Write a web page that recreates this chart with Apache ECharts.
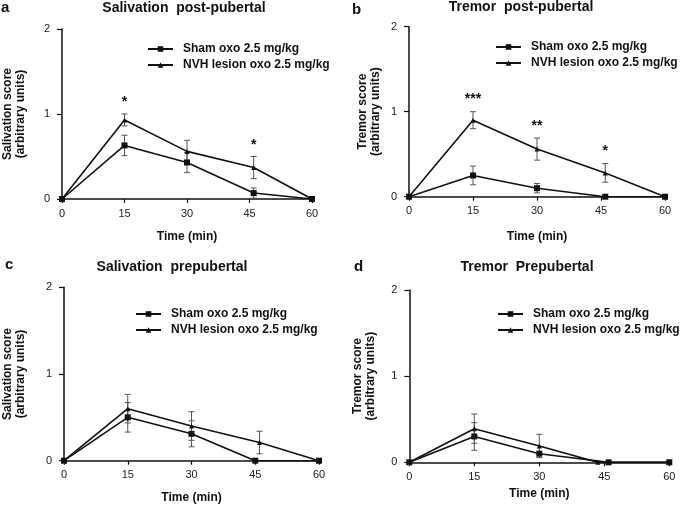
<!DOCTYPE html>
<html>
<head>
<meta charset="utf-8">
<script src="https://cdn.jsdelivr.net/npm/echarts@6/dist/echarts.min.js"></script>
<style>
html,body{margin:0;padding:0;background:#fff;}
#chart{width:685px;height:509px;}
</style>
</head>
<body>
<div id="chart"></div>
<script>
// ---------- data ----------
const xTicks = [0, 15, 30, 45, 60];
const yTicks = [0, 1, 2];
const shamName = 'Sham oxo 2.5 mg/kg';
const nvhName = 'NVH lesion oxo 2.5 mg/kg';

// Panel a: Salivation post-pubertal
const aShamX = [0, 15, 30, 46, 60];
const aShamY = [0, 0.63, 0.43, 0.07, 0];
const aShamErr = [0, 0.12, 0.12, 0.06, 0];
const aNvhX = [0, 15, 30, 46, 60];
const aNvhY = [0, 0.93, 0.56, 0.37, 0];
const aNvhErr = [0, 0.07, 0.13, 0.13, 0];
const aStarX = [15, 46];
const aStarY = [1.14, 0.63];
const aStarText = ['*', '*'];

// Panel b: Tremor post-pubertal
const bShamX = [0, 15, 30, 46, 60];
const bShamY = [0, 0.25, 0.10, 0, 0];
const bShamErr = [0, 0.11, 0.055, 0, 0];
const bNvhX = [0, 15, 30, 46, 60];
const bNvhY = [0, 0.90, 0.56, 0.28, 0];
const bNvhErr = [0, 0.10, 0.13, 0.11, 0];
const bStarX = [15, 30, 46];
const bStarY = [1.15, 0.83, 0.54];
const bStarText = ['***', '**', '*'];

// Panel c: Salivation prepubertal
const cShamX = [0, 15, 30, 45, 60];
const cShamY = [0, 0.50, 0.31, 0, 0];
const cShamErr = [0, 0.17, 0.15, 0, 0];
const cNvhX = [0, 15, 30, 46, 60];
const cNvhY = [0, 0.60, 0.40, 0.21, 0];
const cNvhErr = [0, 0.165, 0.165, 0.13, 0];

// Panel d: Tremor Prepubertal
const dShamX = [0, 15, 30, 46, 60];
const dShamY = [0, 0.30, 0.10, 0, 0];
const dShamErr = [0, 0.16, 0, 0, 0];
const dNvhX = [0, 15, 30, 43.5, 60];
const dNvhY = [0, 0.39, 0.19, 0, 0];
const dNvhErr = [0, 0.17, 0.135, 0, 0];

const panelTitles = ['Salivation  post-pubertal', 'Tremor  post-pubertal', 'Salivation  prepubertal', 'Tremor  Prepubertal'];
const panelLetters = ['a', 'b', 'c', 'd'];
const yNames = ['Salivation score\n(arbitrary units)', 'Tremor score\n(arbitrary units)', 'Salivation score\n(arbitrary units)', 'Tremor score\n(arbitrary units)'];
const xName = 'Time (min)';

// ---------- layout ----------
const FONT = 'Liberation Sans, Arial, sans-serif';
const layouts = [
  {grid: {left: 58, top: 29, width: 254, height: 170}, yGap: 35, xGap: 32,
   legend: {left: 147, top: 43}, title: {x: 184, y: 1}, letter: {x: 1, y: 0}},
  {grid: {left: 409, top: 26.7, width: 256, height: 170}, yGap: 27, xGap: 34,
   legend: {left: 495, top: 41}, title: {x: 521, y: 0}, letter: {x: 352, y: 2}},
  {grid: {left: 60, top: 287.3, width: 259, height: 173.4}, yGap: 37, xGap: 31,
   legend: {left: 135, top: 308}, title: {x: 172, y: 260}, letter: {x: 5, y: 257}},
  {grid: {left: 409.3, top: 290, width: 260, height: 172.3}, yGap: 32, xGap: 25,
   legend: {left: 497, top: 308}, title: {x: 527, y: 260}, letter: {x: 354, y: 259}}
];

const panels = [
  {sx: aShamX, sy: aShamY, se: aShamErr, nx: aNvhX, ny: aNvhY, ne: aNvhErr, stx: aStarX, sty: aStarY, stt: aStarText},
  {sx: bShamX, sy: bShamY, se: bShamErr, nx: bNvhX, ny: bNvhY, ne: bNvhErr, stx: bStarX, sty: bStarY, stt: bStarText},
  {sx: cShamX, sy: cShamY, se: cShamErr, nx: cNvhX, ny: cNvhY, ne: cNvhErr, stx: [], sty: [], stt: []},
  {sx: dShamX, sy: dShamY, se: dShamErr, nx: dNvhX, ny: dNvhY, ne: dNvhErr, stx: [], sty: [], stt: []}
];

function zip(xs, ys) { return xs.map((x, i) => [x, ys[i]]); }
function zip3(xs, ys, es) { return xs.map((x, i) => [x, ys[i], es[i]]); }

function errorRender(params, api) {
  const x = api.value(0), y = api.value(1), e = api.value(2);
  if (!e) return null;
  const top = api.coord([x, y + e]);
  const bot = api.coord([x, y - e]);
  const half = 3;
  const st = {stroke: '#555', lineWidth: 1};
  return {type: 'group', children: [
    {type: 'line', shape: {x1: top[0], y1: top[1], x2: bot[0], y2: bot[1]}, style: st},
    {type: 'line', shape: {x1: top[0] - half, y1: top[1], x2: top[0] + half, y2: top[1]}, style: st},
    {type: 'line', shape: {x1: bot[0] - half, y1: bot[1], x2: bot[0] + half, y2: bot[1]}, style: st}
  ]};
}

const option = {
  backgroundColor: '#fff',
  animation: false,
  title: [], legend: [], grid: [], xAxis: [], yAxis: [], series: []
};

panels.forEach((p, i) => {
  const L = layouts[i];
  option.title.push({text: panelTitles[i], left: L.title.x, top: L.title.y, textAlign: 'center', padding: 0,
    textStyle: {fontFamily: FONT, fontSize: 14, fontWeight: 'bold', color: '#111'}});
  option.title.push({text: panelLetters[i], left: L.letter.x, top: L.letter.y, padding: 0,
    textStyle: {fontFamily: FONT, fontSize: 15, fontWeight: 'bold', color: '#111'}});
  option.grid.push(Object.assign({containLabel: false}, L.grid));
  option.xAxis.push({
    type: 'value', gridIndex: i, min: xTicks[0], max: xTicks[xTicks.length - 1], interval: 15,
    name: xName, nameLocation: 'middle', nameGap: L.xGap,
    nameTextStyle: {fontFamily: FONT, fontSize: 12, fontWeight: 'bold', color: '#111'},
    axisLine: {lineStyle: {color: '#111', width: 1.5}},
    axisTick: {length: 4, lineStyle: {color: '#111', width: 1.2}},
    axisLabel: {margin: 9, fontFamily: FONT, fontSize: 11, color: '#222'},
    splitLine: {show: false}
  });
  option.yAxis.push({
    type: 'value', gridIndex: i, min: yTicks[0], max: yTicks[yTicks.length - 1], interval: 1,
    name: yNames[i], nameLocation: 'middle', nameGap: L.yGap, nameRotate: 90,
    nameTextStyle: {fontFamily: FONT, fontSize: 12, fontWeight: 'bold', color: '#111', lineHeight: 13},
    axisLine: {show: true, lineStyle: {color: '#111', width: 1.5}},
    axisTick: {show: true, length: 5, lineStyle: {color: '#111', width: 1.2}},
    axisLabel: {margin: 12, fontFamily: FONT, fontSize: 11, color: '#222'},
    splitLine: {show: false}
  });
  option.legend.push({
    orient: 'vertical', left: L.legend.left, top: L.legend.top, padding: 0,
    itemWidth: 25, itemHeight: 7, itemGap: 4,
    data: [shamName, nvhName],
    textStyle: {fontFamily: FONT, fontSize: 12, fontWeight: 'bold', color: '#111', padding: [0, 0, 0, 5]},
    selectedMode: false
  });
  option.series.push({
    type: 'custom', name: 'errS' + i, xAxisIndex: i, yAxisIndex: i,
    renderItem: errorRender, data: zip3(p.sx, p.sy, p.se), z: 1, silent: true
  });
  option.series.push({
    type: 'custom', name: 'errN' + i, xAxisIndex: i, yAxisIndex: i,
    renderItem: errorRender, data: zip3(p.nx, p.ny, p.ne), z: 1, silent: true
  });
  option.series.push({
    type: 'line', name: shamName, xAxisIndex: i, yAxisIndex: i,
    data: zip(p.sx, p.sy), symbol: 'rect', symbolSize: 6,
    lineStyle: {color: '#111', width: 1.6}, itemStyle: {color: '#111'}, z: 3
  });
  option.series.push({
    type: 'line', name: nvhName, xAxisIndex: i, yAxisIndex: i,
    data: zip(p.nx, p.ny), symbol: 'triangle', symbolSize: 5,
    lineStyle: {color: '#111', width: 1.6}, itemStyle: {color: '#111'}, z: 3
  });
  if (p.stx.length) {
    const texts = p.stt;
    option.series.push({
      type: 'custom', name: 'stars' + i, xAxisIndex: i, yAxisIndex: i, silent: true,
      data: zip(p.stx, p.sty),
      renderItem: function (params, api) {
        const pt = api.coord([api.value(0), api.value(1)]);
        return {type: 'text', x: pt[0], y: pt[1],
          style: {text: texts[params.dataIndex], fill: '#111', font: 'bold 14px ' + FONT,
            textAlign: 'center', textVerticalAlign: 'middle'}};
      }
    });
  }
});

const chart = echarts.init(document.getElementById('chart'), null, {renderer: 'canvas'});
chart.setOption(option);
</script>
</body>
</html>
